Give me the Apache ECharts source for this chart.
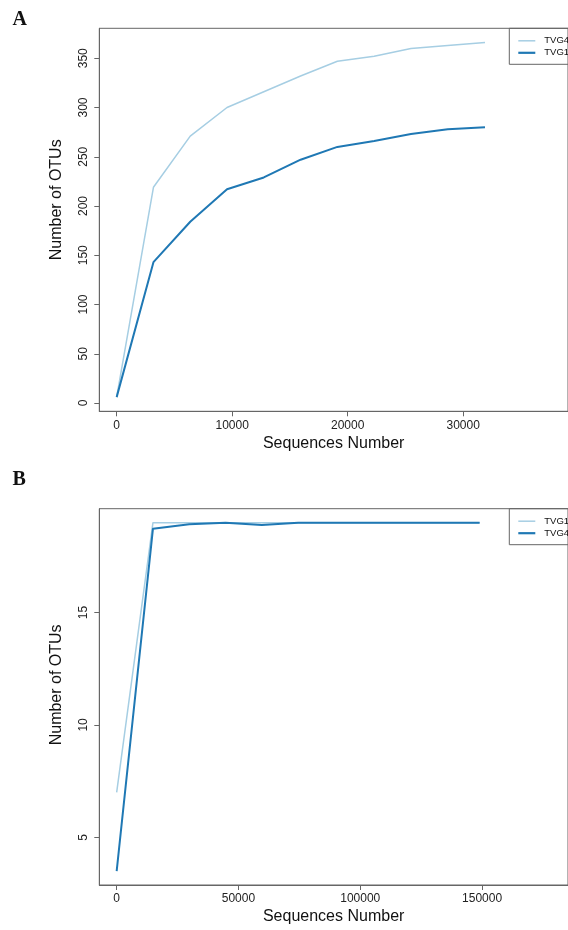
<!DOCTYPE html>
<html>
<head>
<meta charset="utf-8">
<script src="https://cdn.jsdelivr.net/npm/echarts@6/dist/echarts.min.js"></script>
<style>
html,body{margin:0;padding:0;background:#fff;}
#a{position:absolute;left:0;top:0;width:568px;height:465px;}
#b{position:absolute;left:0;top:465px;width:568px;height:465px;}
</style>
</head>
<body>
<div id="a"></div>
<div id="b"></div>
<script>
// panel A
const seqA = [0, 3185, 6370, 9555, 12740, 15925, 19110, 22295, 25480, 28665, 31890];
const tvg4A = [6, 219, 271, 300, 316, 332, 347, 352, 360, 363, 366];
const tvg1A = [6, 143, 184, 217, 229, 247, 260, 266, 273, 278, 280];
const xTicksA = [0, 10000, 20000, 30000];
const yTicksA = [0, 50, 100, 150, 200, 250, 300, 350];
// panel B
const seqB = [0, 14900, 29800, 44700, 59600, 74500, 89400, 104300, 119200, 134100, 149000];
const tvg1B = [7, 19, 19, 19, 19, 19, 19, 19, 19, 19, 19];
const tvg4B = [3.5, 18.73, 18.93, 19, 18.9, 19, 19, 19, 19, 19, 19];
const xTicksB = [0, 50000, 100000, 150000];
const yTicksB = [5, 10, 15];

const LIGHT = '#a6cee3', DARK = '#1f78b4';
const FRAME = '#666';

function pairs(xs, ys) {
  return xs.map((x, i) => [x, ys[i]]);
}

// draws one R-style rarefaction panel
function panel(el, p) {
  const chart = echarts.init(document.getElementById(el));
  chart.setOption({
    animation: false,
    textStyle: {fontFamily: '"Liberation Sans", Arial, sans-serif'},
    graphic: [{
      type: 'text', left: 12.5, top: p.letterTop,
      style: {text: p.letter, font: 'bold 20px "Liberation Serif", serif', fill: '#111'}
    }],
    legend: {
      orient: 'vertical', left: 509.3, top: p.top,
      itemWidth: 17, itemHeight: 9, itemGap: 2,
      padding: [7.5, 40, 6.5, 9],
      borderColor: FRAME, borderWidth: 1, borderRadius: 0,
      textStyle: {fontSize: 9.5, color: '#111', padding: [0, 0, 0, 4]},
      data: [
        {name: p.names[0], icon: 'path://M0,0H17V1.5H0Z'},
        {name: p.names[1], icon: 'path://M0,0H17V2.2H0Z'}
      ]
    },
    grid: {
      left: 99.3, top: p.top, width: p.width, height: 383,
      show: true, borderColor: FRAME, borderWidth: 1, backgroundColor: 'transparent'
    },
    xAxis: {
      type: 'value', min: p.xMin, max: p.xMax,
      name: 'Sequences Number', nameLocation: 'middle', nameGap: 24, nameMoveOverlap: false,
      nameTextStyle: {fontSize: 16, color: '#111'},
      axisLine: {show: true, onZero: false, lineStyle: {color: FRAME, width: 1}},
      splitLine: {show: false},
      axisTick: {show: true, inside: false, length: 5, lineStyle: {color: FRAME}, customValues: p.xTicks},
      axisLabel: {customValues: p.xTicks, fontSize: 12, color: '#222', margin: 8,
                  formatter: v => String(v)}
    },
    yAxis: {
      type: 'value', min: p.yMin, max: p.yMax,
      name: 'Number of OTUs', nameLocation: 'middle', nameGap: 35, nameMoveOverlap: false,
      nameTextStyle: {fontSize: 16, color: '#111', padding: [0, 0, 0, p.nameShift]},
      axisLine: {show: true, onZero: false, lineStyle: {color: FRAME, width: 1}},
      splitLine: {show: false},
      axisTick: {show: true, inside: false, length: 5, lineStyle: {color: FRAME}, customValues: p.yTicks},
      axisLabel: {customValues: p.yTicks, fontSize: 12, color: '#222', margin: 10, rotate: 90,
                  formatter: v => String(v)}
    },
    series: [
      {type: 'line', name: p.names[0], data: pairs(p.seq, p.light), symbol: 'none',
       lineStyle: {color: LIGHT, width: 1.5}, itemStyle: {color: LIGHT}},
      {type: 'line', name: p.names[1], data: pairs(p.seq, p.dark), symbol: 'none',
       lineStyle: {color: DARK, width: 2}, itemStyle: {color: DARK}}
    ]
  });
  return chart;
}

panel('a', {
  letter: 'A', letterTop: 10, top: 28.3, width: 470,
  xMin: -1503, xMax: 39078, yMin: -8.4, yMax: 380.4,
  xTicks: xTicksA, yTicks: yTicksA, nameShift: 40,
  names: ['TVG4', 'TVG1'], seq: seqA, light: tvg4A, dark: tvg1A
});
panel('b', {
  letter: 'B', letterTop: 4.5, top: 43.7, width: 478,
  xMin: -7126, xMax: 185276, yMin: 2.88, yMax: 19.62,
  xTicks: xTicksB, yTicks: yTicksB, nameShift: 24,
  names: ['TVG1', 'TVG4'], seq: seqB, light: tvg1B, dark: tvg4B
});
</script>
</body>
</html>
